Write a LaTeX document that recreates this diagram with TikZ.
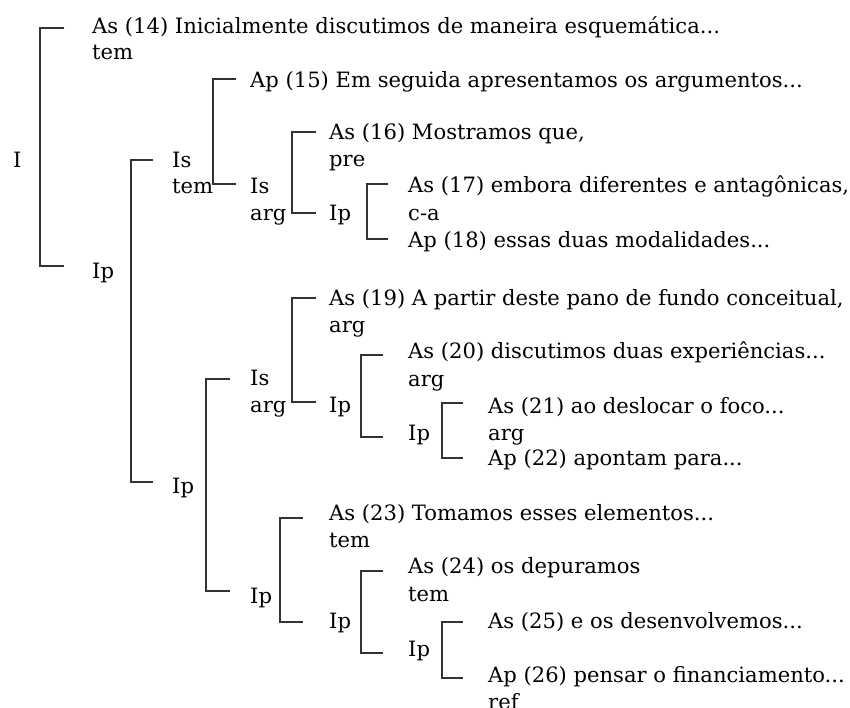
\documentclass[tikz,border=0pt]{standalone}
\usepackage{fontspec}
\setmainfont{DejaVu Serif}
\begin{document}
\begin{tikzpicture}[x=1pt,y=-1pt,
  lbl/.style={anchor=base west, inner sep=0pt, text=black, font=\fontsize{21.1}{26}\selectfont},
  br/.style={draw=black!80, line width=1.1pt}]
\useasboundingbox (0,0) rectangle (850,708);
% labels
\node[lbl] (I) at (13,168) {I};
\node[lbl] (t14) at (92,34) {As (14) Inicialmente discutimos de maneira esquemática...};
\node[lbl] (r14) at (92,60) {tem};
\node[lbl] (ipA) at (92,278) {Ip};
\node[lbl] (isB) at (172,168) {Is};
\node[lbl] (rB) at (172,194) {tem};
\node[lbl] (ipB) at (172,493) {Ip};
\node[lbl] (t15) at (250,88) {Ap (15) Em seguida apresentamos os argumentos...};
\node[lbl] (isC) at (250,194) {Is};
\node[lbl] (rC) at (250,221) {arg};
\node[lbl] (t16) at (329,140) {As (16) Mostramos que,};
\node[lbl] (r16) at (329,167) {pre};
\node[lbl] (ipD) at (329,221) {Ip};
\node[lbl] (t17) at (408,193) {As (17) embora diferentes e antagônicas,};
\node[lbl] (r17) at (408,221) {c-a};
\node[lbl] (t18) at (408,248) {Ap (18) essas duas modalidades...};
\node[lbl] (isE) at (250,385) {Is};
\node[lbl] (rE) at (250,412) {arg};
\node[lbl] (t19) at (329,305) {As (19) A partir deste pano de fundo conceitual,};
\node[lbl] (r19) at (329,332) {arg};
\node[lbl] (ipF) at (329,412) {Ip};
\node[lbl] (t20) at (408,358) {As (20) discutimos duas experiências...};
\node[lbl] (r20) at (408,386) {arg};
\node[lbl] (ipG) at (408,440) {Ip};
\node[lbl] (t21) at (488,413) {As (21) ao deslocar o foco...};
\node[lbl] (r21) at (488,440) {arg};
\node[lbl] (t22) at (488,465) {Ap (22) apontam para...};
\node[lbl] (ipH) at (250,603) {Ip};
\node[lbl] (t23) at (329,520) {As (23) Tomamos esses elementos...};
\node[lbl] (r23) at (329,547) {tem};
\node[lbl] (ipJ) at (329,628) {Ip};
\node[lbl] (t24) at (408,573) {As (24) os depuramos};
\node[lbl] (r24) at (408,601) {tem};
\node[lbl] (ipK) at (408,656) {Ip};
\node[lbl] (t25) at (488,628) {As (25) e os desenvolvemos...};
\node[lbl] (t26) at (488,682) {Ap (26) pensar o financiamento...};
\node[lbl] (r26) at (488,709) {ref};
% bracket ends
\coordinate (b1t) at (64,28);   \coordinate (b1b) at (64,266);
\coordinate (b2t) at (153,160); \coordinate (b2b) at (153,482);
\coordinate (b3t) at (236,79);  \coordinate (b3b) at (236,184);
\coordinate (b4t) at (316,132); \coordinate (b4b) at (316,213);
\coordinate (b5t) at (388,184); \coordinate (b5b) at (388,239);
\coordinate (b6t) at (230,379); \coordinate (b6b) at (230,591);
\coordinate (b7t) at (316,298); \coordinate (b7b) at (316,402);
\coordinate (b8t) at (383,355); \coordinate (b8b) at (383,437);
\coordinate (b9t) at (463,403); \coordinate (b9b) at (463,458);
\coordinate (b10t) at (303,518); \coordinate (b10b) at (303,622);
\coordinate (b11t) at (383,571); \coordinate (b11b) at (383,653);
\coordinate (b12t) at (463,622); \coordinate (b12b) at (463,678);
% brackets
\draw[br] (b1t) -- ++(-24,0) |- (b1b);
\draw[br] (b2t) -- ++(-22,0) |- (b2b);
\draw[br] (b3t) -- ++(-23,0) |- (b3b);
\draw[br] (b4t) -- ++(-24,0) |- (b4b);
\draw[br] (b5t) -- ++(-21,0) |- (b5b);
\draw[br] (b6t) -- ++(-24,0) |- (b6b);
\draw[br] (b7t) -- ++(-24,0) |- (b7b);
\draw[br] (b8t) -- ++(-22,0) |- (b8b);
\draw[br] (b9t) -- ++(-21,0) |- (b9b);
\draw[br] (b10t) -- ++(-23,0) |- (b10b);
\draw[br] (b11t) -- ++(-22,0) |- (b11b);
\draw[br] (b12t) -- ++(-21,0) |- (b12b);
\end{tikzpicture}
\end{document}
